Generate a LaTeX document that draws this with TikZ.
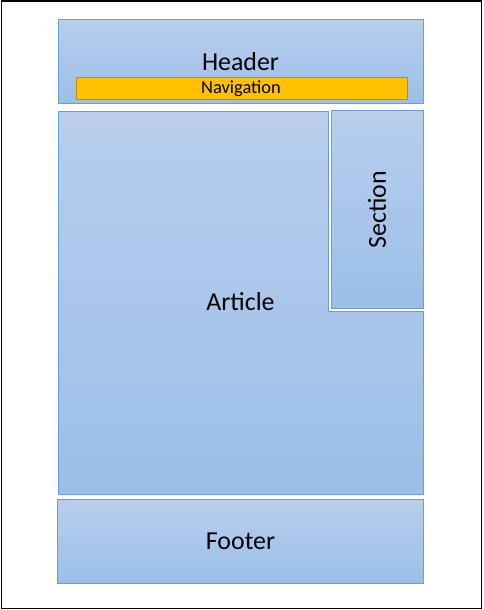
\documentclass[tikz,border=0pt]{standalone}
\usepackage{fontspec}
\setmainfont{Carlito}
\usepackage{xcolor}
\usepackage{tikz}

\definecolor{boxtop}{HTML}{B8CEEC}
\definecolor{boxbot}{HTML}{9BBFE8}
\definecolor{boxline}{HTML}{65A0D8}
\definecolor{navfill}{HTML}{FFC000}
\definecolor{navline}{HTML}{BF9000}

\begin{document}
\begin{tikzpicture}[x=1bp,y=-1bp,
  block/.style={top color=boxtop,bottom color=boxbot,draw=boxline,line width=1bp},
  blocktext/.style={font=\fontsize{26}{30}\selectfont,text=black,inner sep=0pt}]
\useasboundingbox (0,0) rectangle (484,610);
% page frame
\draw[black,line width=1.5bp] (1.5,1) rectangle (481.5,608.5);

% header with navigation bar
\shade[block] (58,20) rectangle (423,104);
\node[blocktext] (header) at (240.5,62) {Header};
\draw[fill=navfill,draw=navline,line width=0.8bp] (76,77) rectangle (407,99);
\node[font=\fontsize{18.5}{20}\selectfont,inner sep=0pt] (nav) at (241,88.5) {Navigation};

% article (L-shape) and section
\shade[block] (58,112) -- (328,112) -- (328,311) -- (423,311) -- (423,494) -- (58,494) -- cycle;
\node[blocktext] (article) at (240.5,302) {Article};
\shade[block] (331,111) rectangle (423,308);
\node[blocktext,rotate=90] (section) at (377,209.5) {Section};

% footer
\shade[block] (57,499) rectangle (423,583);
\node[blocktext] (footer) at (240.5,541.5) {Footer};
\end{tikzpicture}
\end{document}
